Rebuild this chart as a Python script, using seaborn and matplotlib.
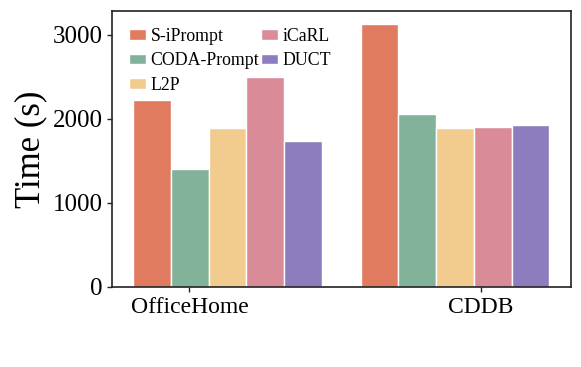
import pandas as pd
import matplotlib.pyplot as plt
import seaborn as sns

# ----------------------------
# Data
# ----------------------------
datasets = ["OfficeHome", "CDDB"]
methods = ["S-iPrompt", "CODA-Prompt", "L2P", "iCaRL", "DUCT"]
officehome_times = [2220, 1400, 1885, 2495, 1740]
cddb_times = [3125, 2060, 1885, 1905, 1930]
colors = ["#E07B5F", "#82B29A", "#F2CC8F", "#D98B98", "#8E7DBE"]
tick_positions = [-0.167, 1.114]

df = pd.DataFrame({
    "Dataset": [datasets[0]] * len(methods) + [datasets[1]] * len(methods),
    "Method": methods * 2,
    "Time": officehome_times + cddb_times,
})

# ----------------------------
# Style
# ----------------------------
sns.set_theme(style="ticks")
plt.rcParams["font.family"] = ["Liberation Serif", "DejaVu Serif"]
plt.rcParams["axes.edgecolor"] = "#222222"
plt.rcParams["axes.linewidth"] = 1.2
for key in ["text.color", "axes.labelcolor", "xtick.labelcolor", "ytick.labelcolor"]:
    plt.rcParams[key] = "black"

fig = plt.figure(figsize=(5.81, 3.67), dpi=100)
ax = fig.add_axes([0.1933, 0.218, 0.7890, 0.752])

sns.barplot(
    data=df,
    x="Dataset",
    y="Time",
    hue="Method",
    order=datasets,
    hue_order=methods,
    palette=colors,
    width=0.83,
    gap=0,
    edgecolor="white",
    linewidth=1.0,
    saturation=1,
    ax=ax,
)

ax.set_xlim(-0.506, 1.509)
ax.set_xticks(tick_positions)
ax.set_xticklabels(datasets, fontsize=17)
ax.set_yticks([0, 1000, 2000, 3000])
ax.tick_params(axis="y", labelsize=18, length=3.5, width=1.0, color="#222222")
ax.tick_params(axis="x", length=3.5, width=1.0, color="#222222")
ax.set_xlabel("")
ax.set_ylabel("Time (s)", fontsize=25, labelpad=4)

ax.legend(
    ncol=2,
    loc="upper left",
    frameon=False,
    fontsize=12.8,
    handlelength=0.95,
    handleheight=0.55,
    handletextpad=0.25,
    columnspacing=0.1,
    labelspacing=0.42,
    borderaxespad=0.55,
)

fig.savefig("out.png", dpi=100)
plt.close()
